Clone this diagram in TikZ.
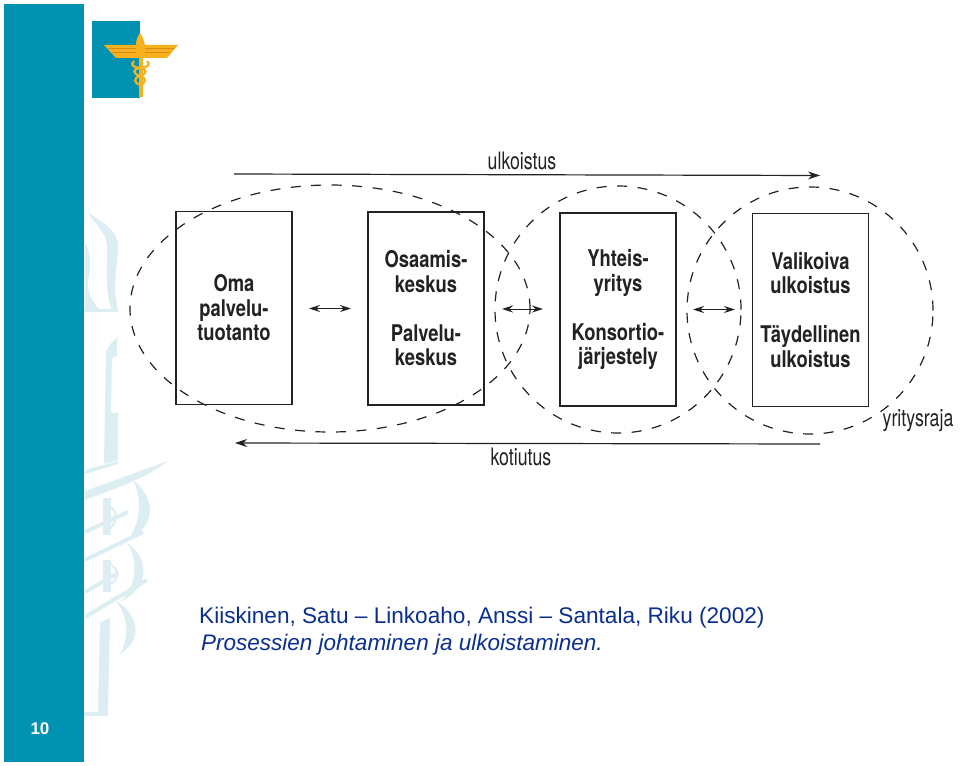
\documentclass[tikz,border=0pt]{standalone}
\usepackage{fontspec}
\setmainfont{Liberation Sans}
\newfontfamily\narrowbold[FakeStretch=0.8]{TeX Gyre Heros Bold}
\newfontfamily\narrowreg[FakeStretch=0.74]{TeX Gyre Heros}
\usetikzlibrary{arrows.meta,shapes.geometric}
\definecolor{teal1}{HTML}{0092B0}
\definecolor{wmark}{HTML}{DDEEF2}
\definecolor{gold1}{HTML}{F7B01E}
\definecolor{gold2}{HTML}{D98A10}
\definecolor{blue1}{HTML}{0A2F8F}
\definecolor{ink}{HTML}{222222}
\tikzset{
  boxnode/.style={draw=ink,line width=1.2pt,minimum width=116pt,minimum height=193pt,inner sep=0pt,align=center,
    font=\fontsize{23}{24.5}\narrowbold,text=ink},
  boundary/.style={draw=ink,line width=1.2pt,dash pattern=on 10pt off 10.5pt,minimum width=246pt,minimum height=247pt,inner sep=0pt},
  flow/.style={draw=ink,line width=1.2pt,-{Stealth[length=12pt,width=8pt]}},
  link/.style={draw=ink,line width=1pt,{Stealth[length=11pt,width=7pt]}-{Stealth[length=11pt,width=7pt]}},
  lbl/.style={font=\fontsize{24}{26}\narrowreg,text=ink,inner sep=0pt},
  ref/.style={font=\fontsize{22.6}{26}\selectfont,text=blue1,inner sep=0pt,anchor=west},
  wm/.style={draw=wmark,line width=4pt},
}
\begin{document}
\begin{tikzpicture}[x=1pt,y=-1pt]
\useasboundingbox (0,0) rectangle (960,765);
\fill[white] (0,0) rectangle (960,765);
% watermark
\fill[wmark] (88,212) .. controls (100,222) and (117,228) .. (118,245) .. controls (118,265) and (112,285) .. (118,310) -- (112,310) .. controls (104,290) and (108,265) .. (107,245) .. controls (106,232) and (95,225) .. (88,212) -- cycle;
\fill[wmark] (85,243) .. controls (92,255) and (91,270) .. (88,280) .. controls (87,292) and (92,302) .. (100,310) -- (85,310) -- cycle;
\fill[wmark] (84,309) rectangle (118,312);
\fill[wmark] (118,337) .. controls (116,345) and (117,350) .. (117,356) -- (112,358) -- (111,413) -- (118,413) -- (118,460) -- (104,464) -- (106,352) .. controls (108,345) and (114,340) .. (118,337) -- cycle;
\fill[wmark] (85,470) -- (118,461) -- (118,464) -- (85,474) -- cycle;
\fill[wmark] (85,491) -- (168,461) .. controls (150,476) and (120,487) .. (85,500) -- cycle;
\fill[wmark] (133,480) .. controls (155,497) and (158,525) .. (127,541) .. controls (140,525) and (143,500) .. (133,480) -- cycle;
\fill[wmark] (127,543) .. controls (150,558) and (150,588) .. (120,602) .. controls (138,585) and (138,560) .. (127,543) -- cycle;
\fill[wmark] (115,600) .. controls (140,615) and (143,640) .. (120,654) .. controls (130,635) and (128,615) .. (115,600) -- cycle;
\draw[wm] (85,532) -- (128,512) (85,560) -- (143,532) (85,592) -- (118,573) (85,617) -- (147,580);
\draw[wmark,line width=2pt] (107,505) .. controls (120,510) and (118,525) .. (105,532);
\draw[wmark,line width=2pt] (107,562) .. controls (122,570) and (120,580) .. (105,588);
\fill[wmark] (103,498) -- (111,498) -- (111,535) -- (103,535) -- cycle;
\fill[wmark] (103,560) -- (111,560) -- (111,592) -- (103,592) -- cycle;
\fill[wmark] (100,622) -- (110,618) -- (108,712) -- (98,712) -- cycle;
\fill[wmark] (84,712) -- (108,712) -- (108,716) -- (84,716) -- cycle;
% sidebar
\fill[teal1] (4,4) rectangle (84,762);
\node[font=\fontsize{17}{18}\selectfont\bfseries,text=white,inner sep=0pt] (pageno) at (40,728.5) {10};
% logo
\fill[teal1] (92,21) rectangle (140,98);
\fill[gold1] (104,45) -- (136,45) -- (139,58) -- (116,58) -- cycle;
\fill[gold1] (178,45) -- (144,45) -- (141,58) -- (167,58) -- cycle;
\draw[gold2,line width=.5pt] (108,48) -- (137,48) (112,52) -- (138,52) (174,48) -- (143,48) (170,52) -- (142,52);
\fill[gold1] (140,33) .. controls (135,40) and (135,48) .. (137,56) -- (144,56) .. controls (146,48) and (145,40) .. (140,33) -- cycle;
\fill[gold1] (138.5,50) rectangle (142.5,97);
\draw[gold1,line width=2.2pt] (134,61) .. controls (130,65) and (133,67) .. (140,68) .. controls (148,69) and (147,74) .. (140,76) .. controls (133,78) and (134,83) .. (140,85);
\draw[gold1,line width=2.2pt] (147,61) .. controls (151,65) and (148,67) .. (140,68) .. controls (132,69) and (133,74) .. (140,76) .. controls (147,78) and (146,83) .. (140,85);
% boundaries
\node[boundary,ellipse,minimum width=400pt] (zone1) at (330,308.5) {};
\node[boundary,ellipse] (zone2) at (618,309.5) {};
\node[boundary,ellipse] (zone3) at (810,310.5) {};
% boxes
\node[boxnode] (b1) at (234,308) {Oma\\palvelu-\\tuotanto};
\node[boxnode] (b2) at (426,308.5) {Osaamis-\\keskus\\[24.5pt]Palvelu-\\keskus};
\node[boxnode] (b3) at (618,309.5) {Yhteis-\\yritys\\[24.5pt]Konsortio-\\järjestely};
\node[boxnode] (b4) at (810.5,310) {Valikoiva\\ulkoistus\\[24.5pt]Täydellinen\\ulkoistus};
% links
\coordinate (l1a) at (309,308.5); \coordinate (l1b) at (351,308.5);
\coordinate (l2a) at (502,309); \coordinate (l2b) at (543,309);
\coordinate (l3a) at (693,309.5); \coordinate (l3b) at (735,309.5);
\draw[link] (l1a) -- (l1b);
\draw[link] (l2a) -- (l2b);
\draw[link] (l3a) -- (l3b);
% flows
\coordinate (u1) at (234,174); \coordinate (u2) at (820,175.5);
\coordinate (k1) at (820,444); \coordinate (k2) at (235,443);
\draw[flow] (u1) -- (u2);
\draw[flow] (k1) -- (k2);
\node[lbl] (ulk) at (522,161) {ulkoistus};
\node[lbl] (kot) at (521,457) {kotiutus};
\node[lbl] (yrj) at (918,421) {yritysraja};
% reference
\node[ref] (r1) at (199,617.5) {Kiiskinen, Satu – Linkoaho, Anssi – Santala, Riku (2002)};
\node[ref,font=\fontsize{22.5}{26}\selectfont\itshape] (r2) at (201,644.5) {Prosessien johtaminen ja ulkoistaminen.};
\end{tikzpicture}
\end{document}
